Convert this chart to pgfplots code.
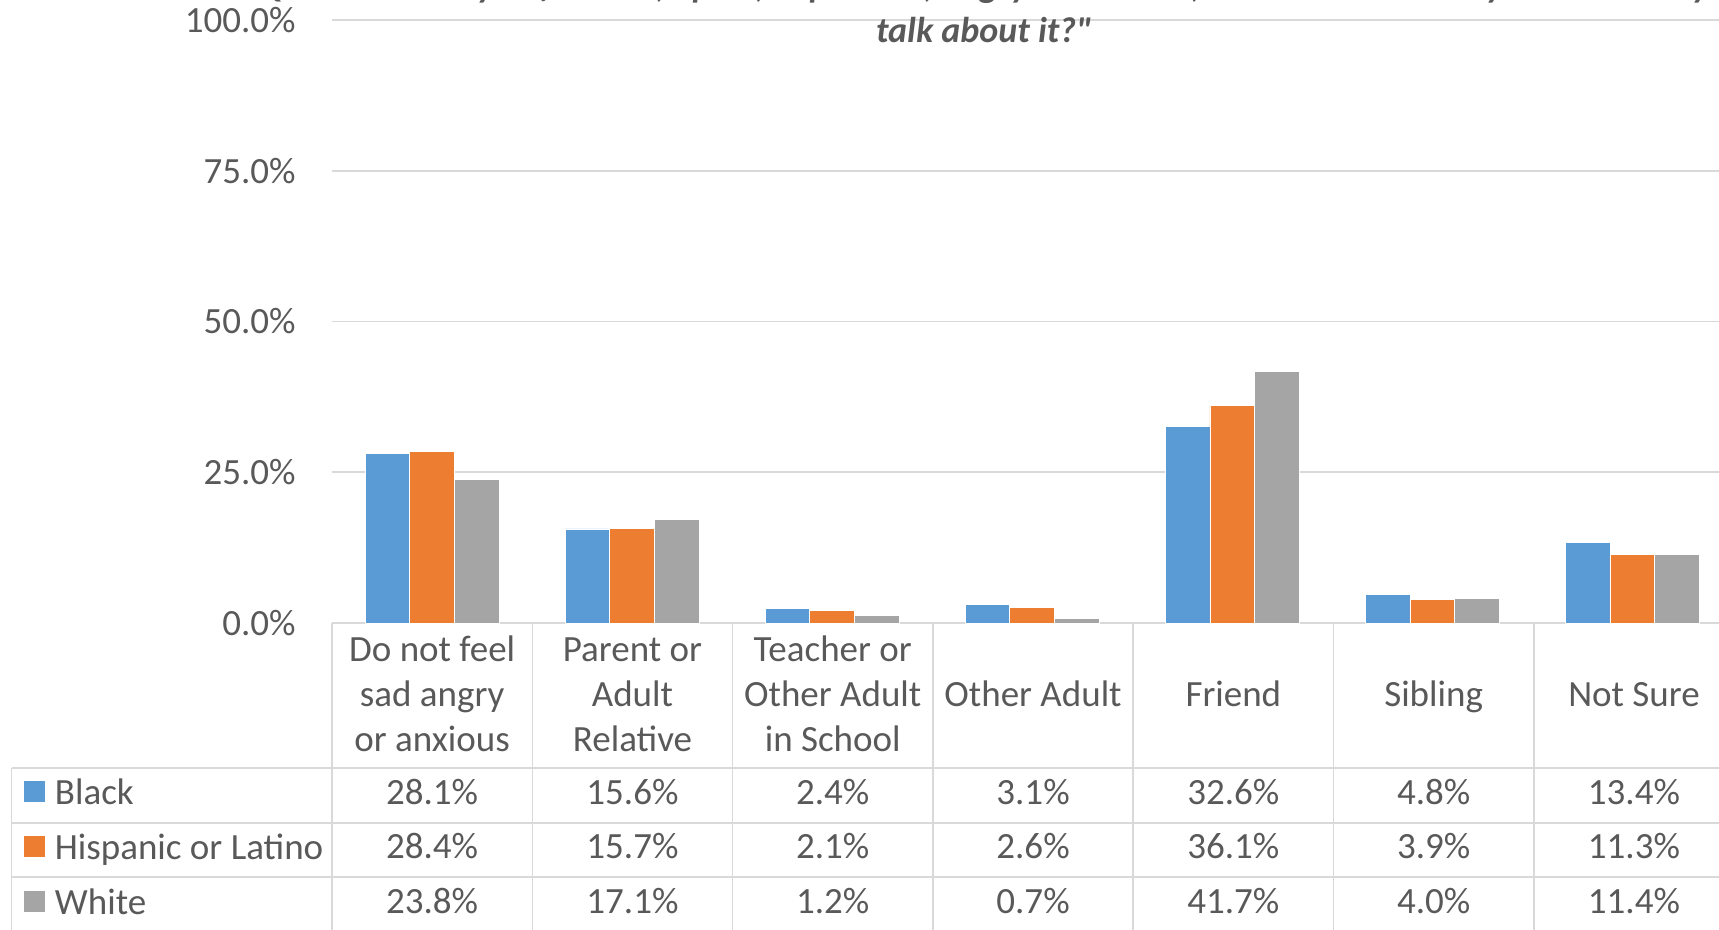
\documentclass[border=0pt]{standalone}
\usepackage{fontspec}
\setmainfont{Carlito}
\newfontfamily\titlefont{Carlito}[Ligatures=TeXOff]
\usepackage{pgfplots}
\usepackage{pgfplotstable}
\pgfplotsset{compat=1.18}

\definecolor{cBlack}{HTML}{5B9BD5}
\definecolor{cHisp}{HTML}{ED7D31}
\definecolor{cWhite}{HTML}{A5A5A5}
\definecolor{txt}{HTML}{595959}
\definecolor{rulegray}{HTML}{D9D9D9}
\newcommand{\fs}{\fontsize{18.5}{22.5}\selectfont}

% share answering each option, per group (%)
\pgfplotstableread{
x  black hisp  white
0  28.1  28.4  23.8
1  15.6  15.7  17.1
2  2.4   2.1   1.2
3  3.1   2.6   0.7
4  32.6  36.1  41.7
5  4.8   3.9   4.0
6  13.4  11.3  11.4
}\datatab

\begin{document}
\begin{tikzpicture}
\begin{axis}[
    at={(166pt,-311.5pt)}, anchor=south west,
    scale only axis,
    width=700.15pt, height=301.5pt,
    xmin=-0.5, xmax=6.5,
    ymin=0, ymax=100,
    ybar=0pt, bar width=22.3pt,
    xtick=\empty,
    ytick={0,25,50,75,100},
    axis line style={draw=none},
    major tick length=0pt,
    ymajorgrids,
    grid style={rulegray, line width=0.8pt},
    /pgf/number format/assume math mode=true,
    yticklabel={\pgfmathprintnumber[fixed,fixed zerofill,precision=1]{\tick}\%},
    yticklabel style={font=\fs, text=txt, anchor=east, inner sep=0pt, xshift=-18pt},
    legend style={at={(-0.22,-0.2586)}, anchor=north west,
        draw=none, fill=none, inner sep=0pt, outer sep=0pt,
        font=\fs, text=txt, row sep=10.45pt, column sep=5pt,
        nodes={inner sep=0pt, text height=13pt, text depth=4pt}},
    legend cell align=left,
    legend image code/.code={\fill[#1,draw=none] (0pt,-3pt) rectangle (10.5pt,7.5pt);},
]
\addplot[fill=cBlack, draw=white, line width=0.4pt] table[x=x, y=black] {\datatab};
\addplot[fill=cHisp, draw=white, line width=0.4pt] table[x=x, y=hisp] {\datatab};
\addplot[fill=cWhite, draw=white, line width=0.4pt] table[x=x, y=white] {\datatab};
\legend{Black, Hispanic or Latino, White}
\end{axis}

\begin{scope}[x=0.5pt, y=-0.5pt]
  % title (cut off at the top in the original)
  \node[font=\titlefont\fontsize{18}{22}\selectfont\bfseries\itshape, text=txt, anchor=base] at (984,-2)
    {Q: "Whenever you feel sad, upset, depressed, angry or anxious, with whom would you most likely};
  \node[font=\titlefont\fontsize{18}{22}\selectfont\bfseries\itshape, text=txt, anchor=base] at (984,42.7)
    {talk about it?"};

  % data table grid
  \draw[rulegray, line width=0.8pt]
    (11.5,768) -- (1719,768)
    (11.5,822.7) -- (1719,822.7)
    (11.5,876.7) -- (1719,876.7)
    (11.5,768) -- (11.5,930);
  \foreach \k in {0,...,7}
    \draw[rulegray, line width=0.8pt] (332+200.3*\k,623) -- (332+200.3*\k,930);

  % category header
  \begin{scope}[every node/.style={font=\fs, text=txt, anchor=base, inner sep=0pt}]
    \node at (432.15,661) {Do not feel};
    \node at (432.15,706) {sad angry};
    \node at (432.15,751.7) {or anxious};
    \node at (632.45,661) {Parent or};
    \node at (632.45,706) {Adult};
    \node at (632.45,751.7) {Relative};
    \node at (832.75,661) {Teacher or};
    \node at (832.75,706) {Other Adult};
    \node at (832.75,751.7) {in School};
    \node at (1033.05,706) {Other Adult};
    \node at (1233.35,706) {Friend};
    \node at (1433.65,706) {Sibling};
    \node at (1633.95,706) {Not Sure};

    \foreach \v [count=\i from 0] in {28.1,15.6,2.4,3.1,32.6,4.8,13.4}
      \node at (432.15+200.3*\i,804.5) {\v\%};
    \foreach \v [count=\i from 0] in {28.4,15.7,2.1,2.6,36.1,3.9,11.3}
      \node at (432.15+200.3*\i,858.8) {\v\%};
    \foreach \v [count=\i from 0] in {23.8,17.1,1.2,0.7,41.7,4.0,11.4}
      \node at (432.15+200.3*\i,913.1) {\v\%};
  \end{scope}

  \pgfresetboundingbox
  \useasboundingbox (0,0) rectangle (1719,930);
\end{scope}
\end{tikzpicture}
\end{document}
